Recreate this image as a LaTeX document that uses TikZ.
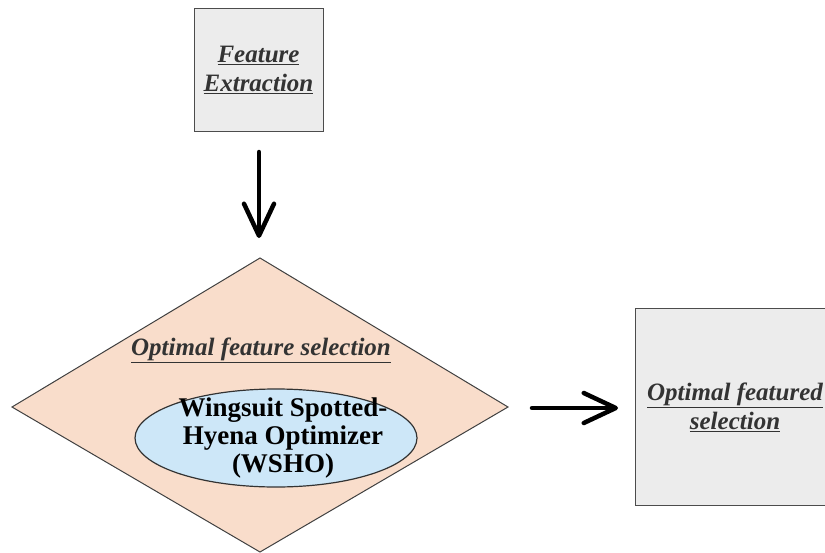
\documentclass[tikz,border=0pt]{standalone}
\usepackage{fontspec}
\setmainfont{Liberation Serif}
\usetikzlibrary{arrows.meta,shapes.geometric}
\definecolor{peach}{RGB}{249,221,203}
\definecolor{skyfill}{RGB}{205,231,248}
\definecolor{boxgrey}{RGB}{236,236,236}
\begin{document}
\begin{tikzpicture}[x=1pt,y=-1pt,
  greybox/.style={draw=black!70,line width=1pt,fill=boxgrey},
  decision/.style={draw=black!75,line width=1pt,fill=peach},
  method/.style={draw=black!80,line width=1.2pt,fill=skyfill,ellipse},
  title/.style={font=\fontsize{25}{29}\selectfont\bfseries\itshape,text=black!80,align=center},
  flow/.style={line width=4.5pt,line cap=round,-{Straight Barb[length=32pt,width=30pt,line width=4.5pt,round]}}]
\useasboundingbox (0,0) rectangle (825,552);
\clip (0,0) rectangle (825,552);
% input block
\node[greybox,minimum width=129pt,minimum height=123pt,inner sep=0pt] (fe) at (258.5,69.5) {};
\node[title] (fet) at (fe.center) {\underline{Feature}\\\underline{Extraction}};
% selection stage
\draw[decision] (260,258) -- (508,407) -- (260,552) -- (12,407) -- cycle;
\node[title] (ofs) at (261,350) {\underline{Optimal feature selection}};
\node[method,minimum width=282pt,minimum height=98pt,inner sep=0pt] (wsho) at (276,438) {};
\node[font=\fontsize{27}{28.5}\selectfont\bfseries,align=center] (wshot) at (283,438)
  {Wingsuit Spotted-\\Hyena Optimizer\\(WSHO)};
% output block
\node[greybox,minimum width=200pt,minimum height=197pt,inner sep=0pt] (out) at (735,406.5) {};
\node[title] (outt) at (735,407) {\underline{Optimal featured}\\\underline{selection}};
% connectors
\coordinate (a1s) at (259,152);
\coordinate (a1e) at (259,238);
\draw[flow] (a1s) -- (a1e);
\coordinate (a2s) at (532,408);
\coordinate (a2e) at (618,408);
\draw[flow] (a2s) -- (a2e);
\end{tikzpicture}
\end{document}
